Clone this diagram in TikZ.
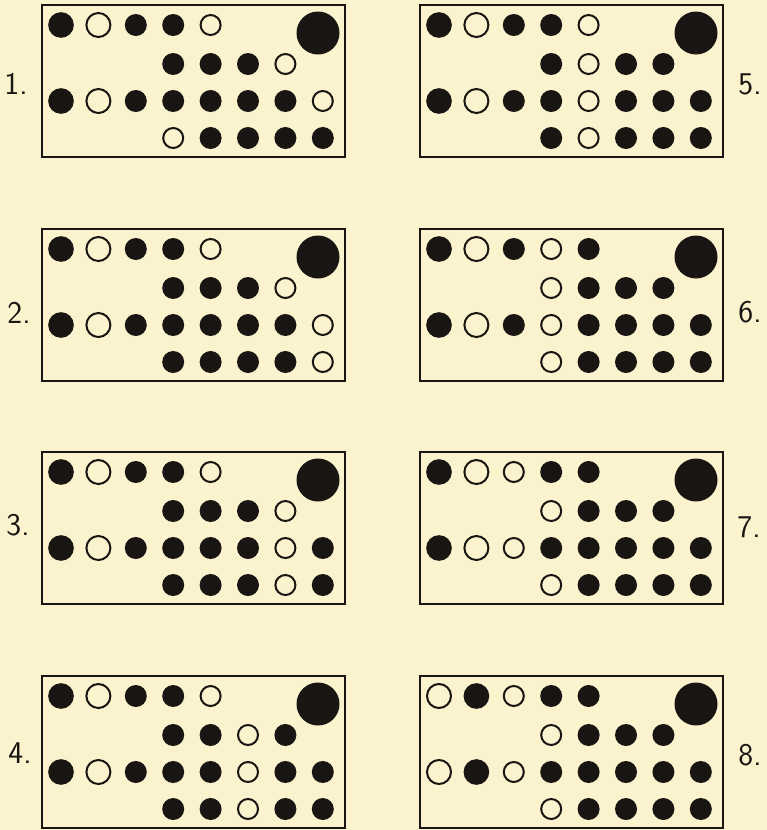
\documentclass[tikz,border=0pt]{standalone}
\usepackage{xcolor}
\usepackage{tikz}
\usetikzlibrary{positioning}
\definecolor{paper}{RGB}{250,243,205}
\definecolor{ink}{RGB}{24,21,19}
\tikzset{
  panelframe/.style={draw=ink,line width=0.06cm},
  bdotlarge/.style={circle,fill=ink,inner sep=0pt,minimum size=0.77cm},
  odotlarge/.style={circle,draw=ink,line width=0.06cm,inner sep=0pt,minimum size=0.72cm},
  bdotsmall/.style={circle,fill=ink,inner sep=0pt,minimum size=0.66cm},
  odotsmall/.style={circle,draw=ink,line width=0.06cm,inner sep=0pt,minimum size=0.6cm},
  bigdot/.style={circle,fill=ink,inner sep=0pt,minimum size=1.29cm},
  panelnum/.style={inner sep=0pt,text=ink,font=\fontsize{27}{30}\selectfont\sffamily}
}
\newcommand{\dotpanel}[9]{%
  \draw[panelframe] (#2,#3) rectangle ++(303,152);
  \node[bigdot] (#1-big) at (#2+276,#3+28) {};
  \foreach \c [count=\i] in {#4} {
    \ifnum\i<3 \def\sz{large}\else\def\sz{small}\fi
    \node[\c dot\sz] (#1-a\i) at (#2+19+37.4*\i-37.4,#3+20) {};
  }
  \foreach \c [count=\i] in {#5}
    \node[\c dotsmall] (#1-b\i) at (#2+19+37.4*\i+74.8,#3+59) {};
  \foreach \c [count=\i] in {#6} {
    \ifnum\i<3 \def\sz{large}\else\def\sz{small}\fi
    \node[\c dot\sz] (#1-c\i) at (#2+19+37.4*\i-37.4,#3+96) {};
  }
  \foreach \c [count=\i] in {#7}
    \node[\c dotsmall] (#1-d\i) at (#2+19+37.4*\i+74.8,#3+133) {};
  \node[panelnum] (#1-num) at #9 {#8};
}

\begin{document}
\begin{tikzpicture}[x=0.03cm,y=-0.03cm]
  \fill[paper] (0,0) rectangle (767,830);
  \useasboundingbox (0,0) rectangle (767,830);
  \dotpanel{one}{42}{5}
    {b,o,b,b,o}{b,b,b,o}{b,o,b,b,b,b,b,o}{o,b,b,b,b}{1.}{(16,84)}
  \dotpanel{two}{42}{229}
    {b,o,b,b,o}{b,b,b,o}{b,o,b,b,b,b,b,o}{b,b,b,b,o}{2.}{(19,313)}
  \dotpanel{three}{42}{452}
    {b,o,b,b,o}{b,b,b,o}{b,o,b,b,b,b,o,b}{b,b,b,o,b}{3.}{(18,525)}
  \dotpanel{four}{42}{676}
    {b,o,b,b,o}{b,b,o,b}{b,o,b,b,b,o,b,b}{b,b,o,b,b}{4.}{(20,753)}
  \dotpanel{five}{420}{5}
    {b,o,b,b,o}{b,o,b,b}{b,o,b,b,o,b,b,b}{b,o,b,b,b}{5.}{(750,84)}
  \dotpanel{six}{420}{229}
    {b,o,b,o,b}{o,b,b,b}{b,o,b,o,b,b,b,b}{o,b,b,b,b}{6.}{(750,312)}
  \dotpanel{seven}{420}{452}
    {b,o,o,b,b}{o,b,b,b}{b,o,o,b,b,b,b,b}{o,b,b,b,b}{7.}{(749,527)}
  \dotpanel{eight}{420}{676}
    {o,b,o,b,b}{o,b,b,b}{o,b,o,b,b,b,b,b}{o,b,b,b,b}{8.}{(750,755)}
\end{tikzpicture}
\end{document}
